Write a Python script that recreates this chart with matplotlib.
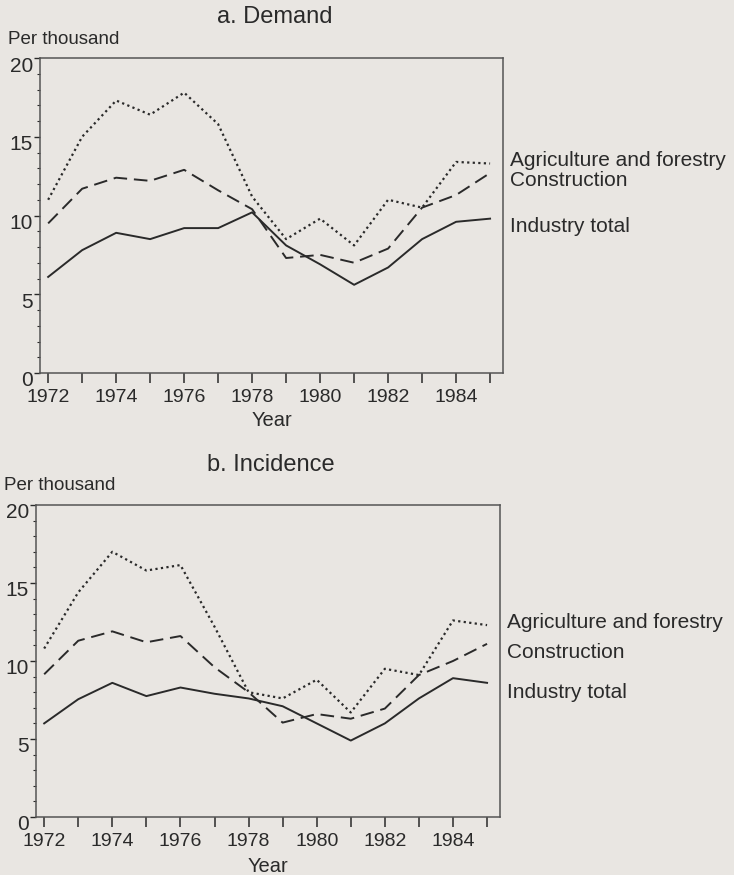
import matplotlib.pyplot as plt
import matplotlib.transforms as mtransforms
from matplotlib.ticker import MultipleLocator

# Datos (por mil)
years = list(range(1972, 1986))

demand_agri = [11.0, 15.0, 17.3, 16.4, 17.8, 15.8, 11.2, 8.5, 9.8, 8.1, 11.0, 10.5, 13.4, 13.3]
demand_cons = [9.5, 11.7, 12.4, 12.2, 12.9, 11.6, 10.4, 7.3, 7.5, 7.0, 7.9, 10.5, 11.3, 12.7]
demand_ind = [6.1, 7.8, 8.9, 8.5, 9.2, 9.2, 10.2, 8.1, 6.9, 5.6, 6.7, 8.5, 9.6, 9.8]

incid_agri = [10.8, 14.4, 17.0, 15.8, 16.15, 12.2, 8.0, 7.6, 8.8, 6.7, 9.5, 9.1, 12.6, 12.3]
incid_cons = [9.15, 11.3, 11.9, 11.2, 11.6, 9.6, 8.0, 6.05, 6.6, 6.3, 6.95, 9.1, 10.0, 11.1]
incid_ind = [6.0, 7.55, 8.6, 7.75, 8.3, 7.9, 7.6, 7.1, 6.0, 4.9, 6.0, 7.6, 8.9, 8.6]

series_labels = ["Agriculture and forestry", "Construction", "Industry total"]

paper = '#e9e6e2'
ink = '#2a2a2a'
plt.rcParams['font.family'] = ['Liberation Sans', 'DejaVu Sans']

W, H = 734, 875
fig = plt.figure(figsize=(W / 100, H / 100), dpi=100, facecolor=paper)


def px_axes(left, top, right, bottom):
    return [left / W, 1 - bottom / H, (right - left) / W, (bottom - top) / H]


def panel(rect, title, agri, cons, ind, label_px_y, title_y, pt_y, year_y, pt_x, lab_x):
    ax = fig.add_axes(px_axes(*rect), facecolor=paper)
    ax.plot(years, agri, color=ink, lw=1.6, linestyle=(0, (1, 1.5)))
    ax.plot(years, cons, color=ink, lw=1.4, linestyle=(0, (7, 3.5)))
    ax.plot(years, ind, color=ink, lw=1.4)
    ax.set_xlim(1971.76, 1985.38)
    ax.set_ylim(0, 20)
    ax.set_xticks(years)
    ax.set_xticklabels([str(y) if y % 2 == 0 else '' for y in years])
    ax.yaxis.set_major_locator(MultipleLocator(5))
    ax.yaxis.set_minor_locator(MultipleLocator(1))
    ax.tick_params(axis='x', which='major', direction='out', length=7, width=1.1,
                   color=ink, labelcolor=ink, labelsize=14, pad=4.5)
    ax.tick_params(axis='y', which='major', direction='out', length=4, width=1.0,
                   color=ink, labelcolor=ink, labelsize=15, pad=1)
    ax.tick_params(axis='y', which='minor', direction='out', length=2.5, width=0.8, color=ink)
    # las etiquetas del eje y quedan un poco por debajo de su marca
    shift = mtransforms.ScaledTranslation(0, -6 / 100, fig.dpi_scale_trans)
    for lab in ax.get_yticklabels():
        lab.set_transform(lab.get_transform() + shift)
    for s in ax.spines.values():
        s.set_color('#555555')
        s.set_linewidth(1.1)

    left, top, right, bottom = rect
    fig.text(((left + right) / 2 + 3) / W, 1 - title_y / H, title, ha='center', va='center',
             fontsize=17, color=ink)
    fig.text(pt_x / W, 1 - pt_y / H, "Per thousand", ha='left', va='center',
             fontsize=13.5, color=ink)
    fig.text(((left + right) / 2) / W, 1 - year_y / H, "Year", ha='center', va='center',
             fontsize=14.5, color=ink)
    for lab, yy in zip(series_labels, label_px_y):
        fig.text(lab_x / W, 1 - yy / H, lab, ha='left', va='center', fontsize=15, color=ink)
    return ax


panel((40, 58, 503, 373), "a. Demand", demand_agri, demand_cons, demand_ind,
      (160, 181, 227), 17, 40, 421, 8, 510)
panel((36, 505, 500, 817), "b. Incidence", incid_agri, incid_cons, incid_ind,
      (622, 653, 693), 465, 485, 866, 4, 507)

fig.savefig('out.png', dpi=100, facecolor=paper)
